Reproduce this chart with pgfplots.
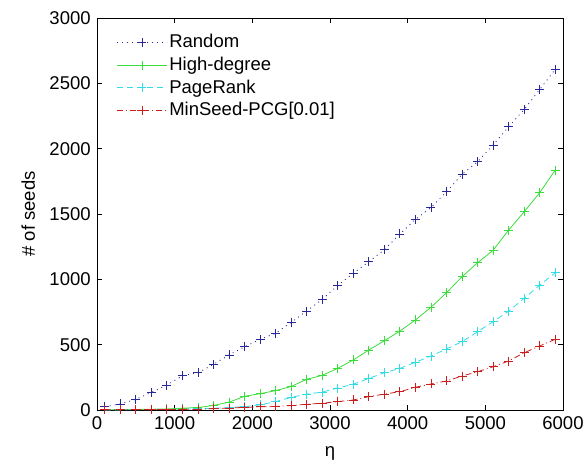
\documentclass[border=0pt]{standalone}
\usepackage{pgfplots}
\pgfplotsset{compat=1.18}
\usepackage{fontspec}
\setmainfont{Liberation Sans}
\setsansfont{Liberation Sans}
\definecolor{cblue}{RGB}{40,40,150}
\definecolor{cgreen}{RGB}{60,220,60}
\definecolor{ccyan}{RGB}{50,220,230}
\definecolor{cred}{RGB}{200,30,30}
\newcommand{\bigfont}{\fontsize{18.5pt}{22pt}\selectfont}

\begin{document}
\bigfont
\begin{tikzpicture}
\begin{axis}[
    scale only axis,
    width=466pt, height=392pt,
    xmin=0, xmax=6000, ymin=0, ymax=3000,
    xtick={0,1000,...,6000},
    ytick={0,500,...,3000},
    tick align=inside,
    major tick length=5pt,
    tick style={black, line width=0.6pt},
    axis line style={line width=0.8pt},
    scaled ticks=false,
    /pgf/number format/assume math mode=true,
    /pgf/number format/set thousands separator={},
    ticklabel style={font=\bigfont},
    xlabel={η}, ylabel={\# of seeds},
    label style={font=\bigfont},
    xlabel style={yshift=-5pt},
    ylabel style={yshift=2pt},
    legend style={draw=none, fill=none, at={(0.035,0.969)}, anchor=north west,
        font=\bigfont, row sep=2.5pt},
    legend cell align=left,
    legend image code/.code={\draw[#1,mark repeat=2,mark phase=2] plot coordinates {(0pt,0pt) (25pt,0pt) (50pt,0pt)};},
    every axis plot/.append style={line width=0.8pt, mark=+, mark size=4.5pt},
    mark options={solid},
]
\addplot[cblue, dash pattern=on 1pt off 4pt] coordinates {
(100,25) (300,46) (500,82) (700,135) (900,191) (1100,262) (1300,285) (1500,350)
(1700,421) (1900,484) (2100,541) (2300,587) (2500,671) (2700,757) (2900,847)
(3100,953) (3300,1046) (3500,1135) (3700,1227) (3900,1347) (4100,1459)
(4300,1549) (4500,1670) (4700,1803) (4900,1900) (5100,2028) (5300,2168)
(5500,2300) (5700,2453) (5900,2607)};
\addlegendentry{Random}
\addplot[cgreen, solid] coordinates {
(100,2) (300,3) (500,4) (700,6) (900,8) (1100,14) (1300,19) (1500,35)
(1700,60) (1900,105) (2100,125) (2300,148) (2500,180) (2700,235) (2900,265)
(3100,319) (3300,383) (3500,459) (3700,530) (3900,604) (4100,689)
(4300,786) (4500,897) (4700,1020) (4900,1127) (5100,1222) (5300,1377)
(5500,1517) (5700,1663) (5900,1836)};
\addlegendentry{High-degree}
\addplot[ccyan, dash pattern=on 6pt off 4pt] coordinates {
(100,1) (300,1) (500,2) (700,3) (900,4) (1100,6) (1300,9) (1500,13)
(1700,20) (1900,25) (2100,40) (2300,64) (2500,97) (2700,122) (2900,137)
(3100,168) (3300,197) (3500,242) (3700,285) (3900,319) (4100,365)
(4300,413) (4500,467) (4700,523) (4900,599) (5100,676) (5300,757)
(5500,854) (5700,956) (5900,1050)};
\addlegendentry{PageRank}
\addplot[cred, dash pattern=on 6pt off 3pt on 1pt off 3pt] coordinates {
(100,2) (300,2) (500,3) (700,3) (900,4) (1100,5) (1300,6) (1500,10)
(1700,15) (1900,20) (2100,24) (2300,27) (2500,34) (2700,44) (2900,52)
(3100,64) (3300,77) (3500,102) (3700,122) (3900,140) (4100,174)
(4300,199) (4500,222) (4700,260) (4900,293) (5100,331) (5300,375)
(5500,438) (5700,490) (5900,541)};
\addlegendentry{MinSeed-PCG[0.01]}
\coordinate (ll) at (rel axis cs:0,0);
\end{axis}
\pgfresetboundingbox
\path (ll) ++(-97pt,-51pt) rectangle ++(587pt,461pt);
\end{tikzpicture}
\end{document}
